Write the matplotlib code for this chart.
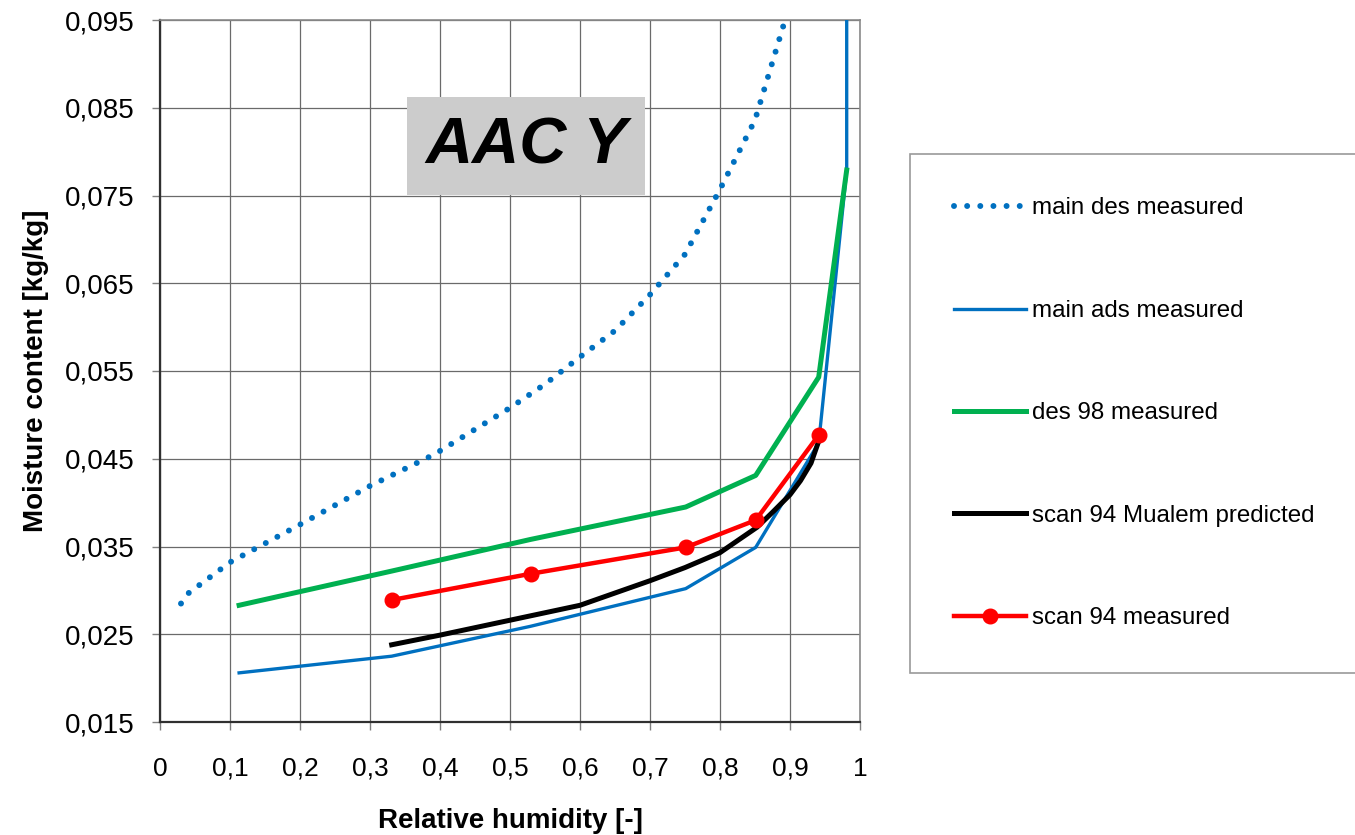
import matplotlib
matplotlib.use("Agg")
import matplotlib.pyplot as plt
from matplotlib.patches import Rectangle
from matplotlib.ticker import FuncFormatter

plt.rcParams['font.family'] = ['Liberation Sans', 'DejaVu Sans']

# ---- data ----
rh_des = [0.03, 0.041, 0.1, 0.2, 0.3, 0.392, 0.5, 0.55, 0.6, 0.65, 0.7, 0.75, 0.8, 0.85, 0.893]
mc_des = [0.0285, 0.0297, 0.0332, 0.0375, 0.0419, 0.0455, 0.0508, 0.0535, 0.0566, 0.0596,
          0.0637, 0.0683, 0.0757, 0.0836, 0.0950]

rh_ads = [0.113, 0.331, 0.529, 0.751, 0.851, 0.941, 0.981, 0.981]
mc_ads = [0.0206, 0.0225, 0.0259, 0.0302, 0.0349, 0.0468, 0.0779, 0.1200]

rh_d98 = [0.113, 0.331, 0.529, 0.751, 0.851, 0.941, 0.981]
mc_d98 = [0.0283, 0.0322, 0.0358, 0.0395, 0.0431, 0.0543, 0.0779]

rh_mua = [0.331, 0.4, 0.5, 0.6, 0.7, 0.75, 0.8, 0.853, 0.875, 0.9, 0.915, 0.93, 0.941]
mc_mua = [0.0238, 0.0249, 0.0266, 0.0283, 0.0311, 0.0326, 0.0343, 0.0372, 0.0389, 0.0409,
          0.0425, 0.0445, 0.0470]

rh_s94 = [0.331, 0.530, 0.751, 0.851, 0.941]
mc_s94 = [0.0289, 0.0319, 0.0349, 0.0380, 0.0477]

x_ticks = [0.0, 0.1, 0.2, 0.3, 0.4, 0.5, 0.6, 0.7, 0.8, 0.9, 1.0]
y_ticks = [0.015, 0.025, 0.035, 0.045, 0.055, 0.065, 0.075, 0.085, 0.095]

labels = ["main des measured", "main ads measured", "des 98 measured",
          "scan 94 Mualem predicted", "scan 94 measured"]
title_text = "AAC Y"
xlabel = "Relative humidity [-]"
ylabel = "Moisture content [kg/kg]"

# ---- figure ----
W, H = 1355, 835
fig = plt.figure(figsize=(W / 100, H / 100), dpi=100)
ax = fig.add_axes([160 / W, 1 - 722 / H, 700 / W, 702 / H])

blue = '#0070C0'
green = '#00B050'
red = '#FF0000'

ax.plot(rh_des, mc_des, color=blue, lw=4.3, linestyle=(0, (0.001, 2.2)),
        dash_capstyle='round', label=labels[0], zorder=3)
ax.plot(rh_ads, mc_ads, color=blue, lw=2.4, label=labels[1], zorder=3)
ax.plot(rh_d98, mc_d98, color=green, lw=3.6, label=labels[2], zorder=3)
ax.plot(rh_mua, mc_mua, color='black', lw=3.6, label=labels[3], zorder=4,
        solid_joinstyle='round')
ax.plot(rh_s94, mc_s94, color=red, lw=3.2, marker='o', markersize=10.5,
        label=labels[4], zorder=5)

ax.set_xlim(0, 1)
ax.set_ylim(0.015, 0.095)
ax.set_xticks(x_ticks)
ax.set_yticks(y_ticks)


def fmt_x(v, pos):
    s = f"{v:.1f}"
    if s == "0.0":
        return "0"
    if s == "1.0":
        return "1"
    return s.replace('.', ',')


def fmt_y(v, pos):
    return f"{v:.3f}".replace('.', ',')


ax.xaxis.set_major_formatter(FuncFormatter(fmt_x))
ax.yaxis.set_major_formatter(FuncFormatter(fmt_y))

grid_c = '#6a6a6a'
ax.grid(True, color=grid_c, lw=0.9, zorder=0)
ax.set_axisbelow(True)
for s in ['top', 'right']:
    ax.spines[s].set_color('#8a8a8a')
    ax.spines[s].set_linewidth(1.2)
for s in ['left', 'bottom']:
    ax.spines[s].set_color('#303030')
    ax.spines[s].set_linewidth(1.6)

ax.tick_params(axis='x', direction='out', length=6, width=1, color='#808080',
               labelsize=19, pad=19)
ax.tick_params(axis='y', direction='out', length=6, width=1, color='#808080',
               labelsize=20, pad=12)

ax.set_xlabel(xlabel, fontsize=20, fontweight='bold', labelpad=20)
ax.set_ylabel(ylabel, fontsize=20, fontweight='bold', labelpad=12)

# title box
ax.add_patch(Rectangle(((407 - 160) / 700, (722 - 195) / 702), 238 / 700, 98 / 702,
                       transform=ax.transAxes, facecolor='#CCCCCC', edgecolor='none',
                       zorder=2))
ax.text((526 - 160) / 700, (722 - 146) / 702, title_text, transform=ax.transAxes,
        fontsize=47, fontweight='bold', fontstyle='italic', ha='center', va='center',
        zorder=6)

leg = fig.legend(loc='upper left', bbox_to_anchor=(910 / W, 1 - 154 / H),
                 fontsize=17.4, frameon=True, fancybox=False, edgecolor='#808080',
                 borderpad=1.8, labelspacing=3.33, handlelength=3.0,
                 handletextpad=0.25, borderaxespad=0)
leg.get_frame().set_linewidth(1.2)

fig.savefig('out.png', dpi=100)
